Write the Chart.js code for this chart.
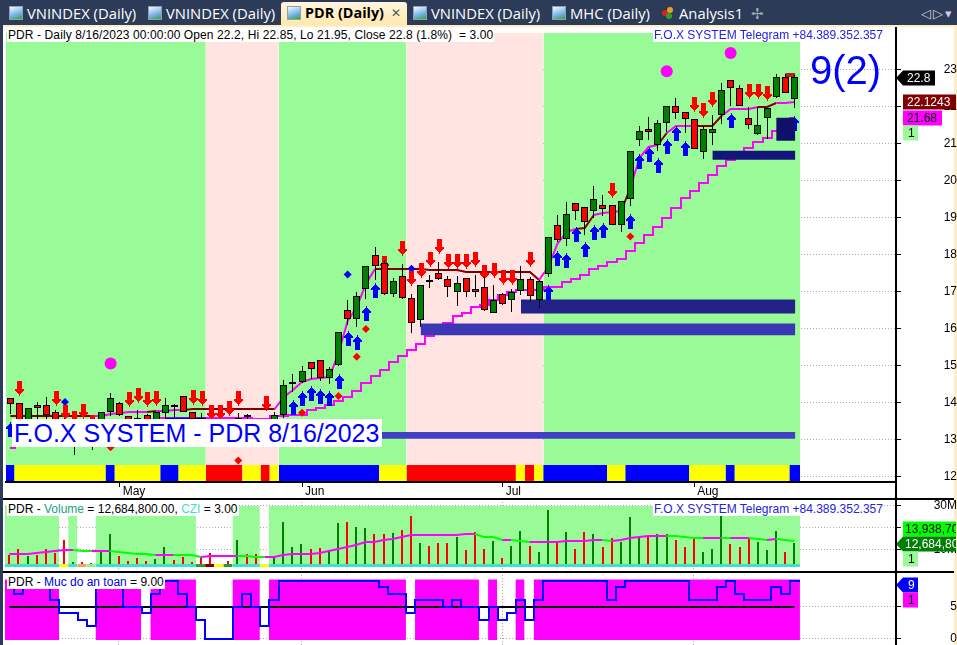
<!DOCTYPE html>
<html>
<head>
<meta charset="utf-8">
<script src="https://cdn.jsdelivr.net/npm/chart.js@4"></script>
<style>
  html, body { margin: 0; padding: 0; width: 957px; height: 645px; overflow: hidden; background: #2c3b58; }
  #sheet { position: absolute; left: 3px; top: 25px; width: 954px; height: 620px; background: #fff; border-top: 2px solid #ffedc4; border-right: 3px solid #ffedc4; box-sizing: border-box; }
  canvas { position: absolute; left: 0; }
  #cvMain { top: 20px; }
  #cvVol { top: 499px; }
  #cvSafe { top: 572px; }
  .rule { position: absolute; background: #000; }
  .lbl { position: absolute; background: #fff; font: 12px "Liberation Sans", sans-serif; color: #000; white-space: pre; line-height: 14px; height: 14px; padding: 0 1px; }
  .fox { color: #2323e0; }
  #big { position: absolute; left: 810px; top: 47px; font: 40px "Liberation Sans", sans-serif; color: #0000ff; line-height: 46px; }
  #sys { position: absolute; left: 12px; top: 419px; height: 28px; width: 370px; box-sizing: border-box; background: #fff; color: #0000ff; font: 25px "Liberation Sans", sans-serif; line-height: 29px; white-space: pre; padding: 0 2px; }
  .tab { position: absolute; top: 3px; font: 14.8px "Open Sans", sans-serif; color: #fff; line-height: 20px; white-space: pre; }
  .ico { position: absolute; top: 6px; width: 14px; height: 14px; background: linear-gradient(160deg, #f4fbff 0%, #7fb6ee 55%, #35a035 100%); border: 1px solid #8ea0b4; box-sizing: border-box; }
  .dot { position: absolute; width: 6px; height: 6px; border-radius: 50%; }
  #active { position: absolute; left: 281px; top: 2px; width: 126px; height: 23px; background: linear-gradient(#fff6e0, #ffe8ac); border-radius: 3px 3px 0 0; }
</style>
</head>
<body>
<div id="sheet"></div>
<div id="active"></div>
<div class="ico" style="left:9px"></div><div class="tab" style="left:27px">VNINDEX (Daily)</div>
<div class="ico" style="left:148px"></div><div class="tab" style="left:166px">VNINDEX (Daily)</div>
<div class="ico" style="left:287px"></div><div class="tab" style="left:305px;color:#000;font-weight:bold;font-size:14.4px">PDR (Daily)</div><div class="tab" style="left:391px;color:#555;font-size:12px">✕</div>
<div class="ico" style="left:413px"></div><div class="tab" style="left:431px">VNINDEX (Daily)</div>
<div class="ico" style="left:552px"></div><div class="tab" style="left:570px">MHC (Daily)</div>
<div class="dot" style="left:662px;top:10px;background:#e02020"></div><div class="dot" style="left:667px;top:7px;background:#e8a020"></div><div class="dot" style="left:666px;top:13px;background:#30a030"></div>
<div class="tab" style="left:679px">Analysis1</div>
<div class="tab" style="left:751px;color:#9aa">✢</div>
<div class="tab" style="left:921px;color:#ccd;font-size:13px">◁</div><div class="tab" style="left:933px;color:#ccd;font-size:13px">▷</div><div class="tab" style="left:945px;color:#ccd;font-size:13px">▾</div>

<canvas id="cvMain" width="957" height="479"></canvas>
<canvas id="cvVol" width="957" height="73"></canvas>
<canvas id="cvSafe" width="957" height="73"></canvas>

<div class="rule" style="left:3px;top:498px;width:951px;height:2px"></div>
<div class="rule" style="left:3px;top:571px;width:951px;height:2px"></div>
<div class="rule" style="left:895px;top:27px;width:2px;height:618px"></div>

<div class="lbl" style="left:7px;top:28px;letter-spacing:0.1px">PDR - Daily 8/16/2023 00:00:00 Open 22.2, Hi 22.85, Lo 21.95, Close 22.8 (1.8%)  = 3.00</div>
<div class="lbl fox" style="left:653px;top:28px">F.O.X SYSTEM Telegram +84.389.352.357</div>
<div id="big">9(2)</div>
<div id="sys">F.O.X SYSTEM - PDR 8/16/2023</div>
<div class="lbl" style="left:7px;top:502px">PDR - <span style="color:#20a080">Volume</span> = 12,684,800.00, <span style="color:#40e0d0">CZI</span> = 3.00</div>
<div class="lbl fox" style="left:653px;top:502px">F.O.X SYSTEM Telegram +84.389.352.357</div>
<div class="lbl" style="left:7px;top:575px">PDR - <span style="color:#0000e0">Muc do an toan</span> = 9.00</div>

<script>
const opens  = [14.12,13.98,13.45,13.93,13.93,13.74,13.5,13.2,13.45,13.25,13.4,13.76,13.98,13.63,13.58,13.68,13.45,13.73,13.95,14.17,13.74,13.58,13.45,13.3,13.5,13.56,13.68,13.3,13.5,13.4,
  13.68,14.51,14.57,15.09,15.14,14.68,15.01,16.49,16.27,17.08,17.99,17.78,16.94,17.43,16.84,16.24,17.31,17.5,17.35,17.0,17.37,17.08,17.13,16.43,16.94,16.78,17.02,17.35,16.78,17.47,
  18.8,18.41,19.39,19.28,19.17,19.34,19.34,18.79,19.49,21.08,21.38,20.97,21.54,22.0,21.84,21.65,20.78,21.29,21.78,22.7,22.49,21.68,21.25,21.68,22.25,22.78,22.2];
const highs  = [14.12,13.98,13.87,14.01,14.15,13.8,13.6,13.5,13.5,13.5,13.74,14.25,14.01,13.65,13.8,13.7,13.74,14.14,13.97,14.17,13.74,13.71,13.5,13.4,13.55,13.71,13.7,13.35,13.55,13.74,
  14.61,14.77,15.0,15.09,15.14,14.97,15.92,16.76,16.98,17.7,18.21,17.86,17.37,17.75,16.93,17.19,17.46,17.8,17.41,17.41,17.37,17.45,17.39,17.17,16.96,17.08,17.7,17.39,17.32,18.48,
  19.08,19.43,19.39,19.28,19.85,19.61,19.34,19.45,20.79,21.46,21.72,21.63,22.0,22.22,21.84,21.65,21.47,21.76,22.62,22.7,22.57,21.97,21.97,21.95,22.87,22.87,22.85];
const lows   = [13.69,13.3,13.3,13.5,13.5,13.2,12.8,12.59,13.1,12.73,13.2,13.64,13.64,13.1,13.2,13.2,13.2,13.5,13.62,13.75,13.3,13.3,13.1,13.1,13.2,13.3,13.5,13.1,13.2,13.2,
  13.6,14.3,14.52,14.63,14.59,14.5,14.99,16.1,16.04,16.81,17.3,16.9,16.85,16.79,15.87,16.05,17.1,17.3,16.85,16.6,16.85,16.85,16.47,16.42,16.65,16.45,16.9,16.72,16.56,17.39,
  18.33,18.24,18.94,18.54,19.0,19.05,18.79,18.6,19.3,20.92,21.1,20.8,21.3,21.67,21.27,20.84,20.59,20.96,21.52,22.01,22.0,21.4,21.24,21.12,22.23,22.37,21.95];
const closes = [13.97,13.49,13.87,13.87,13.68,13.49,13.3,13.4,13.3,13.4,13.74,14.12,13.67,13.4,13.55,13.4,13.74,13.93,13.93,13.76,13.56,13.56,13.3,13.35,13.3,13.58,13.63,13.2,13.3,13.68,
  14.49,14.57,14.87,14.92,14.68,14.92,15.92,16.27,16.89,17.7,17.7,16.94,17.29,16.84,16.14,17.19,17.3,17.35,17.13,17.24,17.0,17.0,16.49,16.78,16.67,17.0,17.35,16.89,17.29,18.48,
  18.39,19.1,19.17,18.87,19.5,19.22,18.79,19.45,20.79,21.33,21.32,21.55,22.0,21.83,21.67,20.84,21.38,21.38,22.43,22.49,22.0,21.49,21.49,21.95,22.78,22.37,22.8];

const trendLine = [13.65,13.65,13.65,13.65,13.65,13.65,13.65,13.65,13.65,13.65,13.65,13.7,13.72,13.74,13.76,13.76,13.78,13.78,13.8,13.81,13.83,13.83,13.83,13.83,13.83,13.83,13.83,13.83,13.83,13.83,
  14.16,14.34,14.57,14.63,14.68,14.7,15.33,16.2,16.58,17.2,17.6,17.6,17.6,17.6,17.6,17.6,17.59,17.59,17.57,17.57,17.54,17.54,17.54,17.54,17.54,17.54,17.54,17.54,17.3,17.66,
  18.29,18.6,18.69,18.71,19.08,19.12,19.14,19.17,19.81,20.62,20.91,20.95,21.29,21.47,21.47,21.48,21.48,21.48,21.74,21.92,21.94,21.94,21.97,21.97,22.1,22.1,22.12];
const trendBrown = [0,1,2,3,4,5,6,7,8,9,16,20,21,22,23,24,25,26,27,28,29,41,42,43,44,45,46,47,48,49,50,51,52,53,54,55,56,57,58,63,64,68,72,76,77,78,83,84,87];
const stopLine = [12.78,12.85,12.92,13.0,13.05,13.1,13.15,13.2,13.25,13.3,13.35,13.4,13.42,13.45,13.48,13.5,13.52,13.58,13.58,13.58,13.58,13.58,13.58,13.58,13.58,13.58,13.58,13.56,13.56,13.63,
  13.63,13.67,13.67,13.8,13.86,13.94,14.04,14.16,14.32,14.52,14.72,14.89,15.1,15.27,15.42,15.59,15.79,15.97,16.15,16.33,16.41,16.58,16.63,16.76,16.9,16.98,17.03,17.03,17.03,17.12,
  17.12,17.26,17.35,17.44,17.62,17.7,17.8,17.88,18.09,18.31,18.52,18.74,19.0,19.27,19.52,19.71,19.92,20.14,20.4,20.55,20.75,20.89,21.03,21.14,21.34,21.5,21.68];

const sellBars = [1,5,6,7,8,9,13,14,15,16,20,21,22,23,24,25,28,41,43,44,45,46,47,48,49,50,51,52,53,54,55,57,66,75,76,77,81,82,83];
const sellVals = [14.39,14.14,13.74,13.58,13.78,13.49,14.09,14.22,14.09,14.14,14.16,14.14,13.74,13.74,13.87,14.14,13.98,17.78,18.18,17.37,17.59,17.89,18.24,17.83,17.83,17.83,17.89,17.54,17.59,17.39,17.39,17.89,19.74,22.06,21.89,22.19,22.41,22.41,22.35];
const buyBars = [0,31,32,33,34,35,36,37,38,39,40,59,60,61,62,63,64,65,68,69,70,71,72,73,74,79,86];
const buyVals = [13.29,13.89,14.14,14.25,14.19,14.12,14.59,15.76,15.65,16.41,17.05,16.99,17.91,17.86,18.56,18.15,18.6,18.67,18.91,20.52,20.71,20.41,20.93,21.28,20.87,21.63,21.56];
const redDotBars = [11,25,32,36,38,39,68];
const redDotVals = [12.8,12.44,13.73,14.18,15.24,15.99,18.49];
const blueDotBars = [6,37,44];
const blueDotVals = [14.02,17.46,17.62];
const circleBars = [11,72,79];
const circleVals = [15.06,22.95,23.44];

// zones: first bar, last bar, top price, bottom price, colour
const zones = [
  [6,86.1,13.21,13.03,'#4040c0'],
  [45,86.1,16.14,15.82,'#3a36b4'],
  [56,86.1,16.79,16.41,'#222288'],
  [77,86.1,20.8,20.56,'#14147a'],
  [84,86.1,21.69,21.07,'#10106a'],
  [85,86.1,22.9,22.79,'#b22222'],
  [17,21.5,13.6,13.55,'#0000ff']
];

const monthBars = [12,32,54,75];
const monthNames = ['May','Jun','Jul','Aug'];
const priceTicks = [12,13,14,15,16,17,18,19,20,21,22,23];

// background regimes, edges given in bar units
const bandRuns = [[-0.47,21.44,'#98fb98'],[21.44,29.44,'#ffe4e1'],[29.44,43.46,'#98fb98'],[43.46,58.47,'#ffe4e1'],[58.47,86.62,'#98fb98']];
const stripRuns = [[0,0,'b'],[1,10,'y'],[11,11,'b'],[12,16,'y'],[17,18,'b'],[19,21,'y'],[22,25,'r'],[26,27,'y'],[28,28,'r'],[29,29,'y'],[30,40,'b'],[41,43,'y'],[44,55,'r'],[56,56,'y'],[57,57,'r'],[58,58,'y'],[59,65,'b'],[66,67,'y'],[68,74,'b'],[75,78,'y'],[79,79,'b'],[80,85,'y'],[86,86,'b']];

const volumes = [7.37,10.0,6.9,7.4,10.0,8.45,14.3,4.1,4.1,3.7,9.7,17.05,6.9,4.6,6.0,4.6,5.5,11.06,5.07,6.45,4.15,6.45,8.3,3.2,4.6,14.3,7.8,7.8,3.2,6.9,
  22.6,11.06,12.4,10.1,10.6,9.2,22.1,22.6,20.3,19.8,17.05,17.05,17.5,18.9,25.3,12.9,11.5,12.9,12.9,15.7,9.7,18,10.1,13.8,6,11.5,18.4,11.5,8.75,28.1,
  13.4,18,10.1,18,17.05,11.06,15.2,13.4,24.9,15.2,16.6,17.05,17.05,14.3,11.06,15.2,8.75,10.1,25.3,12.4,11.06,15.7,13.4,9.7,18.4,8.75,12.68];
const volAvg = [7.8,7.8,7.9,8.1,8.7,9.4,9.7,9.7,9.4,9.1,9.1,9.2,8.8,8.45,8.0,7.7,7.4,7.55,7.55,7.4,7.2,6.45,6.9,6.9,6.9,6.9,6.75,6.6,6.45,6.45,
  7.4,8.0,8.0,8.0,8.5,9.4,10,10.9,12,13.2,13.5,14.3,14.6,15.5,16.6,16.6,16.6,16.6,16.6,16.6,17.05,17.05,15.8,15.5,14.3,14.3,14,13.5,13.5,13.5,
  13.5,14,14,14,14.3,14.3,14,14.3,15.2,15.5,16,16.1,16.3,16.1,15.8,15.4,15.2,15.4,15.4,15.2,15.4,15.4,14.6,14.3,14.6,14.1,13.94];
const volRuns = [[0,5],[7,7],[10,20],[25,27],[29,86]];
const cziRuns = [[0,5,'#40e0d0'],[6,6,'#ffff00'],[7,7,'#40e0d0'],[8,8,'#f4a460'],[9,9,'#90ee90'],[10,20,'#40e0d0'],[21,21,'#2e9a2e'],[22,22,'#800000'],[23,23,'#ffff00'],[24,24,'#2e9a2e'],[25,27,'#40e0d0'],[28,28,'#ffff00'],[29,86,'#40e0d0']];
const volTicks = [10,20,30];

const safety = [9,7,9,9,9,6,4,4,3,2,9,9,9,5,5,4,7,9,9,7,5,3,0,0,0,5,7,5,2,6,
  9,9,9,9,9,9,9,9,9,9,9,8,7,7,4,6,6,6,5,6,5,5,3,5,3,4,6,3,6,9,
  9,9,9,9,9,9,6,8,9,9,9,9,9,9,9,6,6,6,8,9,7,6,6,6,8,7,9];
const safeTicks = [0,5];
const safeLevel = 5;

const GREEN = '#008000', RED = '#ff0000', MAGENTA = '#ff00ff', BROWN = '#800000';
const X_MIN = -0.47, X_MAX = 97.14, BARS_END = 86.62;
const stripColors = {b:'#0000ff', y:'#ffff00', r:'#ff0000'};
const bars = opens.map((_, i) => i);
const barColors = bars.map(i => closes[i] >= opens[i] ? GREEN : RED);

function box(x0, x1, top, bottom, color, order) {
  return { type: 'line', data: [{x: x0, y: top}, {x: x1, y: top}], fill: {value: bottom}, backgroundColor: color,
    borderColor: 'transparent', borderWidth: 0, pointRadius: 0, order };
}
function runBox(first, last, top, bottom, color, order) {
  const x0 = first === 0 ? X_MIN : first - 0.55;
  const x1 = last === 86 ? BARS_END : last + 0.45;
  return box(x0, x1, top, bottom, color, order);
}
function arrowSprite(color, up) {
  const rows = [1, 1, 3, 5, 7, 9, 9, 5, 5, 5, 5, 5, 5, 5, 5];
  const c = document.createElement('canvas');
  c.width = 9; c.height = 15;
  const g = c.getContext('2d');
  g.fillStyle = color;
  rows.forEach((w, r) => g.fillRect((9 - w) / 2, up ? r : 14 - r, w, 1));
  return c;
}
function markers(xs, ys, style, color, radius, order, snap) {
  return { type: 'line', showLine: false, data: xs.map((x, i) => ({x, y: ys[i]})), pointStyle: style, pointRadius: radius,
    pointBackgroundColor: color, pointBorderColor: color, pointBorderWidth: 0, order, snap };
}
function xAxis() {
  return { type: 'linear', offset: false, min: X_MIN, max: X_MAX,
    afterBuildTicks: s => { s.ticks = monthBars.map(v => ({value: v})); },
    afterFit: s => { s.height = 0; s.paddingLeft = s.paddingRight = 0; },
    ticks: { display: false },
    border: { display: false, dash: [1, 2] },
    grid: { drawTicks: false, color: '#aaaaaa', offset: false } };
}
function yAxis(min, max, tickList, labelFn, pad) {
  return { position: 'right', min, max,
    afterBuildTicks: s => { s.ticks = tickList.map(v => ({value: v})); },
    afterFit: s => { s.width = 61; s.paddingTop = s.paddingBottom = 0; },
    ticks: { callback: labelFn, color: '#000', padding: pad, crossAlign: 'far', font: {family: 'Liberation Sans', size: 12} },
    border: { display: false, dash: [1, 2] },
    grid: { color: '#aaaaaa', tickColor: '#000', tickLength: 5, tickBorderDash: [] } };
}

// snap marks to whole pixels, the picture has no soft edges
const pixelSnap = {
  id: 'pixelSnap',
  afterDatasetsUpdate(chart) {
    chart.getSortedVisibleDatasetMetas().forEach(meta => {
      const ds = chart.data.datasets[meta.index];
      if (meta.type === 'bar') {
        meta.data.forEach(el => {
          const w = el.width;
          el.x = Math.round(el.x - w / 2) + w / 2;
          el.y = Math.round(el.y);
          el.base = Math.round(el.base);
          if (ds.minH && Math.abs(el.base - el.y) < ds.minH) el.base = el.y + ds.minH;
        });
      } else if (ds.snap) {
        meta.data.forEach(el => { el.x = Math.round(el.x) + 0.5; el.y = Math.round(el.y) + 0.5; });
      } else if (ds.stepped) {
        meta.data.forEach(el => { el.x = 2 * Math.round(el.x / 2); el.y = Math.round(el.y); });
      } else if (ds.crisp) {
        meta.data.forEach(el => { el.y = Math.round(el.y); });
      }
    });
  }
};

// price tags to the right of the axis
const valueTags = {
  id: 'valueTags',
  afterDraw(chart, args, opts) {
    const ctx = chart.ctx, sy = chart.scales.y;
    ctx.save();
    ctx.font = '12px "Liberation Sans"';
    ctx.textBaseline = 'middle';
    (opts.items || []).forEach(t => {
      const yc = Math.round(sy.getPixelForValue(t.value) + t.dy);
      const h = 15, left = 903;
      ctx.fillStyle = t.bg;
      ctx.beginPath();
      if (t.pointer) {
        ctx.moveTo(896, yc);
        ctx.lineTo(left, yc - h / 2);
        ctx.lineTo(left + t.w, yc - h / 2);
        ctx.lineTo(left + t.w, yc + h / 2);
        ctx.lineTo(left, yc + h / 2);
      } else {
        ctx.rect(left, yc - h / 2, t.w, h);
      }
      ctx.closePath();
      ctx.fill();
      ctx.save();
      ctx.clip();
      ctx.fillStyle = t.fg;
      ctx.fillText(t.text, left + t.pad, yc + 1);
      ctx.restore();
    });
    ctx.restore();
  }
};

const base = { responsive: false, animation: false, layout: { padding: { left: 5 } }, events: [] };

new Chart(document.getElementById('cvMain'), {
  type: 'bar',
  plugins: [pixelSnap, valueTags],
  data: { datasets: [
    ...bandRuns.map(r => box(r[0], r[1], 23.98, 11.9, r[2], 20)),
    ...stripRuns.map(r => runBox(r[0], r[1], 12.32, 11.89, stripColors[r[2]], 19)),
    { type: 'line', data: bars.map(i => ({x: i, y: stopLine[i]})), borderColor: MAGENTA, borderWidth: 2, pointRadius: 0, stepped: 'middle', order: 12 },
    { type: 'line', data: bars.map(i => ({x: i, y: trendLine[i]})), borderColor: MAGENTA, borderWidth: 2, pointRadius: 0, crisp: true, order: 11,
      segment: { borderColor: c => trendBrown.includes(c.p1DataIndex) ? BROWN : MAGENTA } },
    markers(sellBars, sellVals, arrowSprite('#ff0000', false), '#ff0000', 5, 10, true),
    markers(buyBars, buyVals, arrowSprite('#0000ff', true), '#0000ff', 5, 10, true),
    markers(redDotBars, redDotVals, 'rectRot', '#ff0000', 4, 10),
    markers(blueDotBars, blueDotVals, 'rectRot', '#0000ff', 4, 10),
    markers(circleBars, circleVals, 'circle', MAGENTA, 6, 10),
    ...zones.map(z => box(z[0], z[1], z[2], z[3], z[4], 9)),
    { type: 'bar', grouped: false, barThickness: 1, borderWidth: 0, inflateAmount: 0, backgroundColor: '#000', order: 3,
      data: bars.map(i => ({x: i, y: [lows[i], highs[i]]})) },
    { type: 'bar', grouped: false, barThickness: 7, borderWidth: 1, borderColor: '#000', borderSkipped: false, inflateAmount: 0, minH: 2, order: 2,
      backgroundColor: barColors, data: bars.map(i => ({x: i, y: [opens[i], closes[i]]})) }
  ] },
  options: { ...base,
    plugins: { legend: {display: false}, tooltip: {enabled: false},
      valueTags: { items: [
        {value: 22.8, dy: 1, text: '22.8', bg: '#000', fg: '#fff', w: 32, pad: 4, pointer: true},
        {value: 22.1243, dy: 0, text: '22.1243', bg: BROWN, fg: '#fff', w: 53, pad: 4},
        {value: 21.68, dy: 0, text: '21.68', bg: MAGENTA, fg: '#000', w: 39, pad: 4},
        {value: 21.68, dy: 15, text: '1', bg: '#98fb98', fg: '#000', w: 15, pad: 5}
      ] } },
    scales: {
      x: { type: 'linear', offset: false, min: X_MIN, max: X_MAX,
        afterBuildTicks: s => { s.ticks = monthBars.map(v => ({value: v})); },
        afterFit: s => { s.height = 17; s.paddingLeft = s.paddingRight = 0; },
        ticks: { callback: v => monthNames[monthBars.indexOf(v)], align: 'start', color: '#000', padding: -3, labelOffset: 3, maxRotation: 0, autoSkip: false, font: {family: 'Liberation Sans', size: 12} },
        border: { display: true, color: '#000', width: 2 },
        grid: { display: true, drawOnChartArea: false, offset: false, tickColor: '#000', tickLength: 5 } },
      y: yAxis(11.86, 24.17, priceTicks, v => v, 32)
    } }
});

new Chart(document.getElementById('cvVol'), {
  type: 'bar',
  plugins: [pixelSnap, valueTags],
  data: { datasets: [
    ...volRuns.map(r => runBox(r[0], r[1], 30, 1.84, '#98fb98', 20)),
    { type: 'bar', grouped: false, barThickness: 2, borderWidth: 0, inflateAmount: 0, backgroundColor: barColors, order: 8,
      data: bars.map(i => ({x: i, y: [3, volumes[i]]})) },
    ...cziRuns.map(r => runBox(r[0], r[1], 3.2, 1.84, r[2], 6)),
    { type: 'line', data: bars.map(i => ({x: i, y: volAvg[i]})), borderWidth: 2, pointRadius: 0, crisp: true, order: 4, borderColor: MAGENTA,
      segment: { borderColor: c => c.p1.parsed.y < c.p0.parsed.y ? '#00ff00' : MAGENTA } }
  ] },
  options: { ...base,
    plugins: { legend: {display: false}, tooltip: {enabled: false},
      valueTags: { items: [
        {value: 13.94, dy: -12, text: '13,938,700', bg: '#00ff00', fg: '#000', w: 53, pad: 2},
        {value: 12.68, dy: 1, text: '12,684,800', bg: GREEN, fg: '#fff', w: 53, pad: 2, pointer: true},
        {value: 12.68, dy: 16, text: '1', bg: '#98fb98', fg: '#000', w: 15, pad: 5}
      ] } },
    scales: { x: xAxis(), y: yAxis(-0.46, 33.18, volTicks, v => v + 'M', 21) } }
});

const safeRuns = [];
safety.forEach((v, i) => {
  if (v < safeLevel) return;
  const last = safeRuns[safeRuns.length - 1];
  if (last && last[1] === i - 1) last[1] = i; else safeRuns.push([i, i]);
});

new Chart(document.getElementById('cvSafe'), {
  type: 'line',
  plugins: [pixelSnap, valueTags],
  data: { datasets: [
    ...safeRuns.map(r => runBox(r[0], r[1], 9.2, -0.15, MAGENTA, 20)),
    { data: bars.map(i => ({x: i, y: safeLevel})), borderColor: '#000', borderWidth: 2, pointRadius: 0, crisp: true, order: 6 },
    { data: [...bars.map(i => ({x: i, y: safety[i]})), {x: BARS_END, y: safety[86]}], borderColor: '#0000ff', borderWidth: 2, pointRadius: 0, stepped: 'middle', order: 4 }
  ] },
  options: { ...base,
    plugins: { legend: {display: false}, tooltip: {enabled: false},
      valueTags: { items: [
        {value: 9, dy: 4.4, text: '9', bg: '#0000ff', fg: '#fff', w: 15, pad: 5, pointer: true},
        {value: 9, dy: 19, text: '1', bg: MAGENTA, fg: '#000', w: 15, pad: 5}
      ] } },
    scales: { x: xAxis(), y: yAxis(-0.93, 10.37, safeTicks, v => v, 39) } }
});
</script>
</body>
</html>
